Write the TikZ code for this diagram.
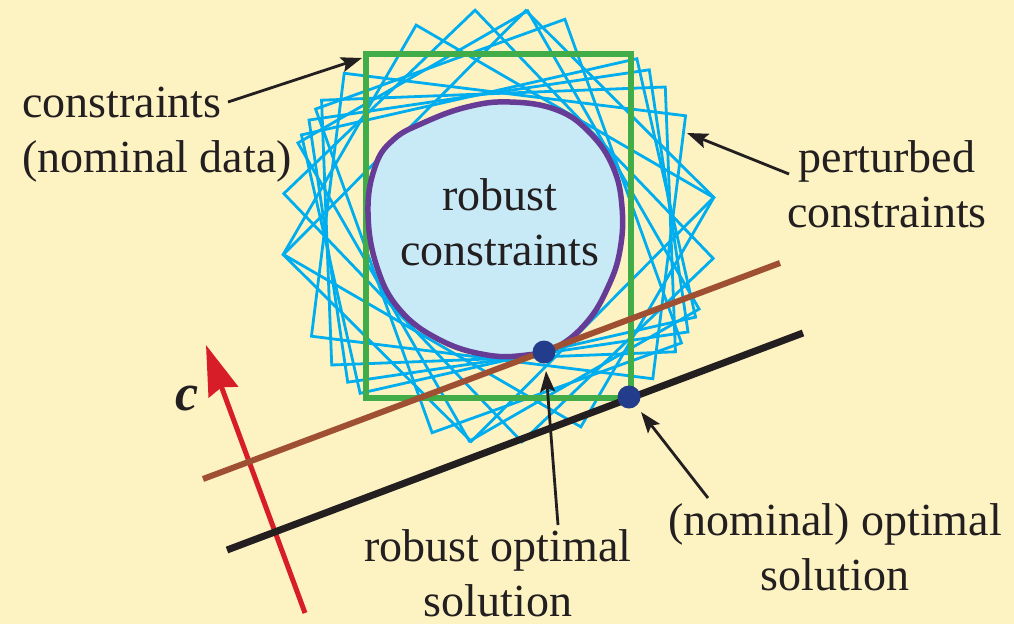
\documentclass[tikz,border=0pt]{standalone}
\usepackage{fontspec}
\setmainfont{Liberation Serif}
\usetikzlibrary{arrows.meta,calc}
\definecolor{bg}{RGB}{253,242,194}
\definecolor{pertc}{RGB}{0,174,239}
\definecolor{nomc}{RGB}{64,173,73}
\definecolor{robc}{RGB}{102,60,150}
\definecolor{robfill}{RGB}{200,234,246}
\definecolor{brownc}{RGB}{160,80,50}
\definecolor{redc}{RGB}{215,30,40}
\definecolor{dotc}{RGB}{35,60,140}
\definecolor{inkc}{RGB}{35,31,32}
\tikzset{
  pert/.style={draw=pertc, line width=2.8pt, line join=miter},
  nomrect/.style={draw=nomc, line width=5.5pt},
  robblob/.style={draw=robc, fill=robfill, line width=5.5pt},
  dotnode/.style={circle, fill=dotc, minimum size=23pt, inner sep=0pt},
  lbl/.style={font=\fontsize{46}{55}\selectfont, text=inkc, inner sep=0pt},
  callout/.style={draw=inkc, line width=2.8pt, -{Stealth[length=21pt,width=15pt,inset=4pt]}},
}
\begin{document}
\begin{tikzpicture}[x=1pt,y=-1pt]
\fill[bg] (0,0) rectangle (1014,624);
\useasboundingbox (0,0) rectangle (1014,624);
% perturbed constraints
\foreach \t in {-44.8,19.8,29.9,43.8,59.9,82.9,92.2,98.4,102.8}{
  \begin{scope}[shift={(498.5,226)}, rotate=\t]
    \draw[pert] (-132.5,-172) -- (132.5,-172) -- (132.5,172) -- (-132.5,172) -- cycle;
  \end{scope}
}
% nominal constraints
\draw[nomrect] (366,54) rectangle (631,398);
\coordinate (gcorner) at (362,58);
% robust constraints
\draw[robblob] plot[smooth cycle, tension=0.7] coordinates {
 (510,102) (557,110) (590,133) (613,167) (622,207) (620,250) (608,287)
 (587,322) (557,347) (527,355) (487,355) (440,340) (400,310) (377,267)
 (368,213) (375,167) (393,140) (423,123) (467,107)};
% objective direction
\coordinate (r1) at (305,613);
\coordinate (r2) at (206,345);
\draw[draw=redc, line width=5pt, -{Stealth[length=50pt,width=31pt,inset=5pt]}] (r1) -- (r2);
\node[font=\fontsize{52}{52}\selectfont\bfseries\itshape, text=inkc, inner sep=0pt] (cl) at (187,398) {c};
% level lines
\coordinate (b1) at (203,479);
\coordinate (b2) at (780,263);
\draw[draw=brownc, line width=6pt] (b1) -- (b2);
\coordinate (k1) at (227,550);
\coordinate (k2) at (803,333);
\draw[draw=inkc, line width=7pt] (k1) -- (k2);
% solutions
\node[dotnode] (ro) at (544,352) {};
\node[dotnode] (no) at (629,397) {};
% labels (base anchor = baseline of last line)
\node[lbl, anchor=base west, align=left] (lc) at (22,172) {constraints\\(nominal data)};
\node[lbl, anchor=base, align=center] (lp) at (887,227) {perturbed\\constraints};
\node[lbl, anchor=base, align=center] (lr) at (500,265) {robust\\constraints};
\node[lbl, anchor=base, align=center, text depth=0pt] (lro) at (498,616) {robust optimal\\solution};
\node[lbl, anchor=base, align=center] (lno) at (835,590) {(nominal) optimal\\solution};
% callouts
\coordinate (a1) at (228,102);
\coordinate (a2) at (789,174);
\coordinate (a2t) at (687,133);
\coordinate (a3) at (558,525);
\coordinate (a3t) at (546,371);
\coordinate (a4) at (708,498);
\coordinate (a4t) at (641,412);
\draw[callout] (a1) -- (gcorner);
\draw[callout] (a2) -- (a2t);
\draw[callout] (a3) -- (a3t);
\draw[callout] (a4) -- (a4t);
\end{tikzpicture}
\end{document}
